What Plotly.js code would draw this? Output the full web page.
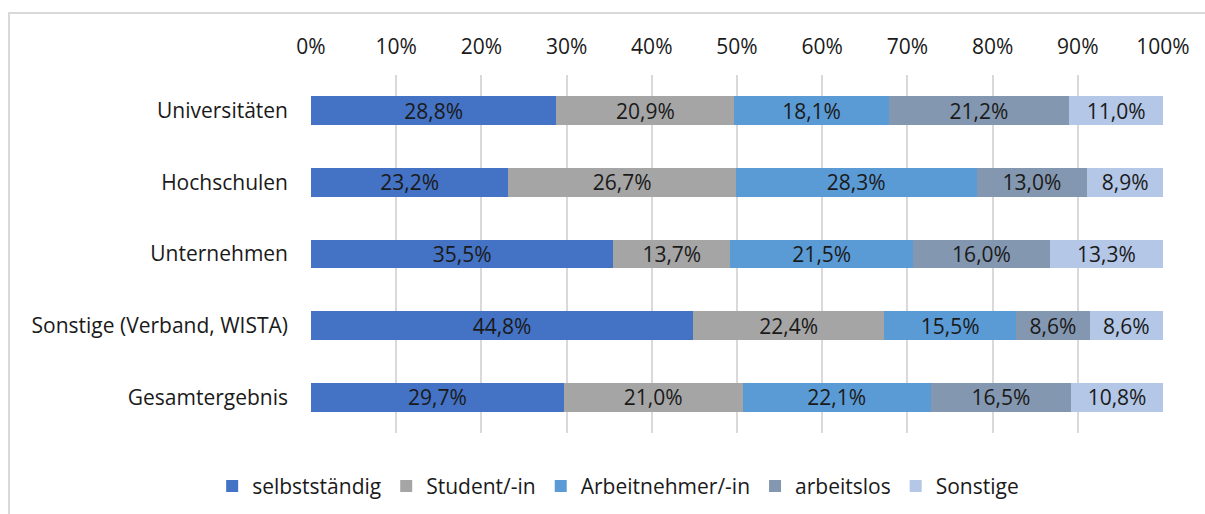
<!DOCTYPE html>
<html>
<head>
<meta charset="utf-8">
<script src="https://cdn.plot.ly/plotly-3.0.1.min.js"></script>
<style>
  body { margin: 0; background: #fff; }
  #wrap { position: relative; width: 1205px; height: 514px; overflow: hidden; }
  #chart { position: absolute; left: 0; top: 0; width: 1205px; height: 514px; }
  #rahmen { position: absolute; left: 8px; top: 12px; width: 1210px; height: 600px;
            border: 2px solid #d9d9d9; pointer-events: none; }
</style>
</head>
<body>
<div id="wrap">
  <div id="chart"></div>
  <div id="rahmen"></div>
</div>
<script>
// Kategorien (von oben nach unten)
const kategorien = ['Universitäten', 'Hochschulen', 'Unternehmen', 'Sonstige (Verband, WISTA)', 'Gesamtergebnis'];

// Anteile in Prozent je Gruppe
const selbststaendig = [28.8, 23.2, 35.5, 44.8, 29.7];
const student = [20.9, 26.7, 13.7, 22.4, 21.0];
const arbeitnehmer = [18.1, 28.3, 21.5, 15.5, 22.1];
const arbeitslos = [21.2, 13.0, 16.0, 8.6, 16.5];
const sonstige = [11.0, 8.9, 13.3, 8.6, 10.8];

const serienNamen = ['selbstständig', 'Student/-in', 'Arbeitnehmer/-in', 'arbeitslos', 'Sonstige'];
const farben = ['#4472c4', '#a5a5a5', '#5b9bd5', '#8497b0', '#b4c7e7'];
const tickWerte = [0, 10, 20, 30, 40, 50, 60, 70, 80, 90, 100];

const schrift = '"Open Sans", sans-serif';
const groesse = 21;

function formatProzent(v) {
    return v.toFixed(1).replace('.', ',') + '%';
}

const werte = [selbststaendig, student, arbeitnehmer, arbeitslos, sonstige];

const data = werte.map((reihe, i) => ({
    type: 'bar',
    orientation: 'h',
    name: serienNamen[i],
    y: kategorien,
    x: reihe,
    text: reihe.map(formatProzent),
    textposition: 'inside',
    insidetextanchor: 'middle',
    textangle: 0,
    constraintext: 'none',
    insidetextfont: { family: schrift, size: groesse, color: '#1a1a1a' },
    marker: { color: farben[i], line: { width: 0 } },
    hoverinfo: 'skip'
}));

const layout = {
    width: 1205,
    height: 514,
    margin: { l: 311, r: 42, t: 75, b: 81 },
    paper_bgcolor: 'rgba(0,0,0,0)',
    plot_bgcolor: '#fff',
    barmode: 'stack',
    barnorm: 'percent',
    bargap: 0.6,
    font: { family: schrift, size: groesse, color: '#1a1a1a' },
    xaxis: {
        side: 'top',
        range: [0, 100],
        tickvals: tickWerte,
        ticktext: tickWerte.map(t => t + '%'),
        showgrid: true,
        gridcolor: '#d9d9d9',
        gridwidth: 2,
        zeroline: false,
        showline: false,
        ticks: '',
        ticklabelstandoff: 16,
        tickfont: { family: schrift, size: groesse, color: '#1a1a1a' },
        fixedrange: true
    },
    yaxis: {
        autorange: 'reversed',
        showgrid: false,
        zeroline: false,
        showline: false,
        ticks: '',
        ticklabelstandoff: 22,
        tickfont: { family: schrift, size: groesse, color: '#1a1a1a' },
        fixedrange: true
    },
    showlegend: true,
    legend: {
        orientation: 'h',
        xref: 'container',
        yref: 'container',
        x: 0.513,
        xanchor: 'center',
        y: 0.054,
        yanchor: 'middle',
        traceorder: 'normal',
        font: { family: schrift, size: groesse, color: '#1a1a1a' },
        itemwidth: 30
    }
};

Plotly.newPlot('chart', data, layout, { displayModeBar: false, staticPlot: true });
</script>
</body>
</html>
